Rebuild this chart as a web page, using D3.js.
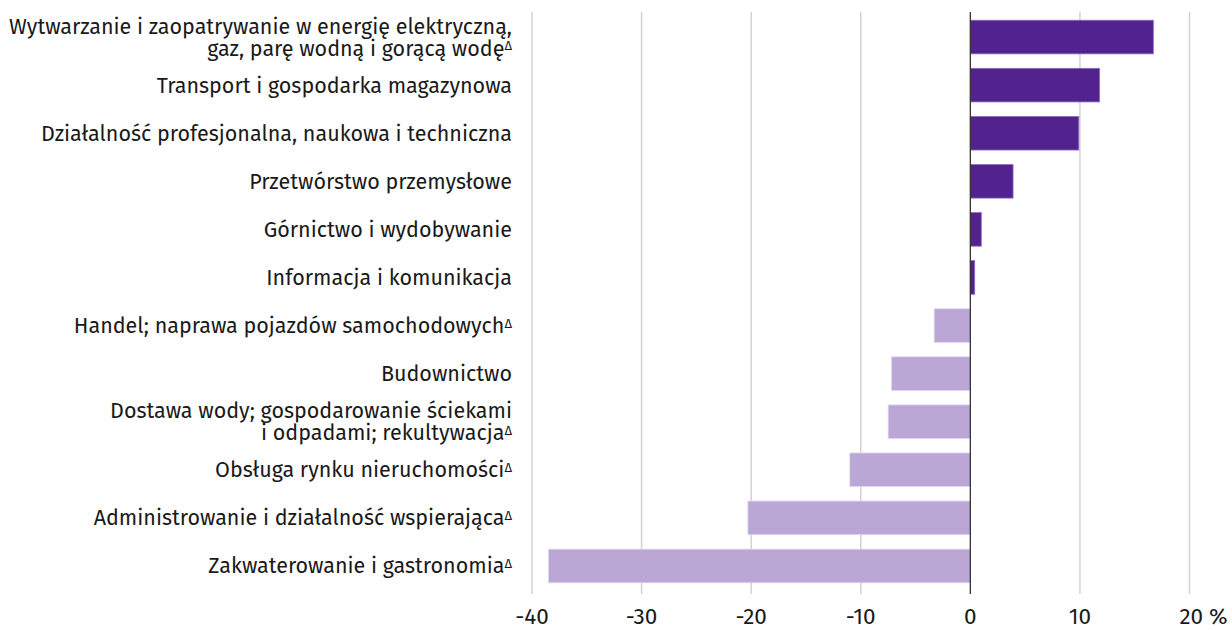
<!DOCTYPE html>
<html>
<head>
<meta charset="utf-8">
<script src="https://cdn.jsdelivr.net/npm/d3@7"></script>
<style>
  body { margin: 0; background: #fff; }
  svg { display: block; font-family: "Fira Sans", "Open Sans", "Noto Sans", sans-serif; }
</style>
</head>
<body>
<div id="chart"></div>
<script>
// each label: lines of text, and whether it gets the Δ mark
const labels = [
  ["Wytwarzanie i zaopatrywanie w energię elektryczną,", "gaz, parę wodną i gorącą wodę"],
  ["Transport i gospodarka magazynowa"],
  ["Działalność profesjonalna, naukowa i techniczna"],
  ["Przetwórstwo przemysłowe"],
  ["Górnictwo i wydobywanie"],
  ["Informacja i komunikacja"],
  ["Handel; naprawa pojazdów samochodowych"],
  ["Budownictwo"],
  ["Dostawa wody; gospodarowanie ściekami", "i odpadami; rekultywacja"],
  ["Obsługa rynku nieruchomości"],
  ["Administrowanie i działalność wspierająca"],
  ["Zakwaterowanie i gastronomia"]
]
const delta = [true, false, false, false, false, false, true, false, true, true, true, true]
const values = [16.7, 11.8, 9.9, 3.9, 1.0, 0.4, -3.3, -7.2, -7.5, -11.0, -20.3, -38.5]
const ticks = [-40, -30, -20, -10, 0, 10, 20]

const width = 1232, height = 630
const svg = d3.select("#chart").append("svg")
  .attr("width", width).attr("height", height)

const x = d3.scaleLinear().domain([-40, 20]).range([532, 1189.5])
const y = d3.scaleBand().domain(d3.range(values.length)).range([13, 590]).paddingInner(0.3).paddingOuter(0.15)

// grid
svg.append("g").selectAll("line").data(ticks.filter(t => t !== 0)).join("line")
  .attr("x1", d => x(d)).attr("x2", d => x(d))
  .attr("y1", 12).attr("y2", 594)
  .attr("stroke", "#d2d2d2").attr("stroke-width", 1.5)

// bars
svg.append("g").selectAll("rect").data(values).join("rect")
  .attr("x", d => x(Math.min(0, d)))
  .attr("width", d => Math.abs(x(d) - x(0)))
  .attr("y", (d, i) => y(i))
  .attr("height", y.bandwidth())
  .attr("fill", d => d >= 0 ? "#52238f" : "#baa7d5")
  .attr("stroke", d => d >= 0 ? "#8f72c0" : "#e2d9ef")
  .attr("stroke-width", 0.8)

// zero line
svg.append("line")
  .attr("x1", x(0)).attr("x2", x(0)).attr("y1", 12).attr("y2", 594)
  .attr("stroke", "#333").attr("stroke-width", 1.3)

// category labels
const lab = svg.append("g").attr("text-anchor", "end").attr("font-size", 21.5).attr("fill", "#1a1a1a")
labels.forEach((lines, i) => {
  const cy = y(i) + y.bandwidth() / 2
  const lh = 22
  const top = cy - (lines.length - 1) * lh / 2
  lines.forEach((ln, j) => {
    const t = lab.append("text")
      .attr("x", 512).attr("y", top + j * lh).attr("dy", "0.35em")
      .text(ln)
    if (j === lines.length - 1 && delta[i]) {
      t.append("tspan").attr("font-size", 13).attr("dy", "-0.4em").text("Δ")
    }
  })
})

// x axis labels
svg.append("g").attr("text-anchor", "middle").attr("font-size", 22.5).attr("fill", "#1a1a1a")
  .selectAll("text").data(ticks).join("text")
  .attr("x", d => x(d)).attr("y", 624)
  .text(d => d === 20 ? "20 %" : String(d))
  .attr("dx", d => d === 20 ? 14 : 0)
</script>
</body>
</html>
